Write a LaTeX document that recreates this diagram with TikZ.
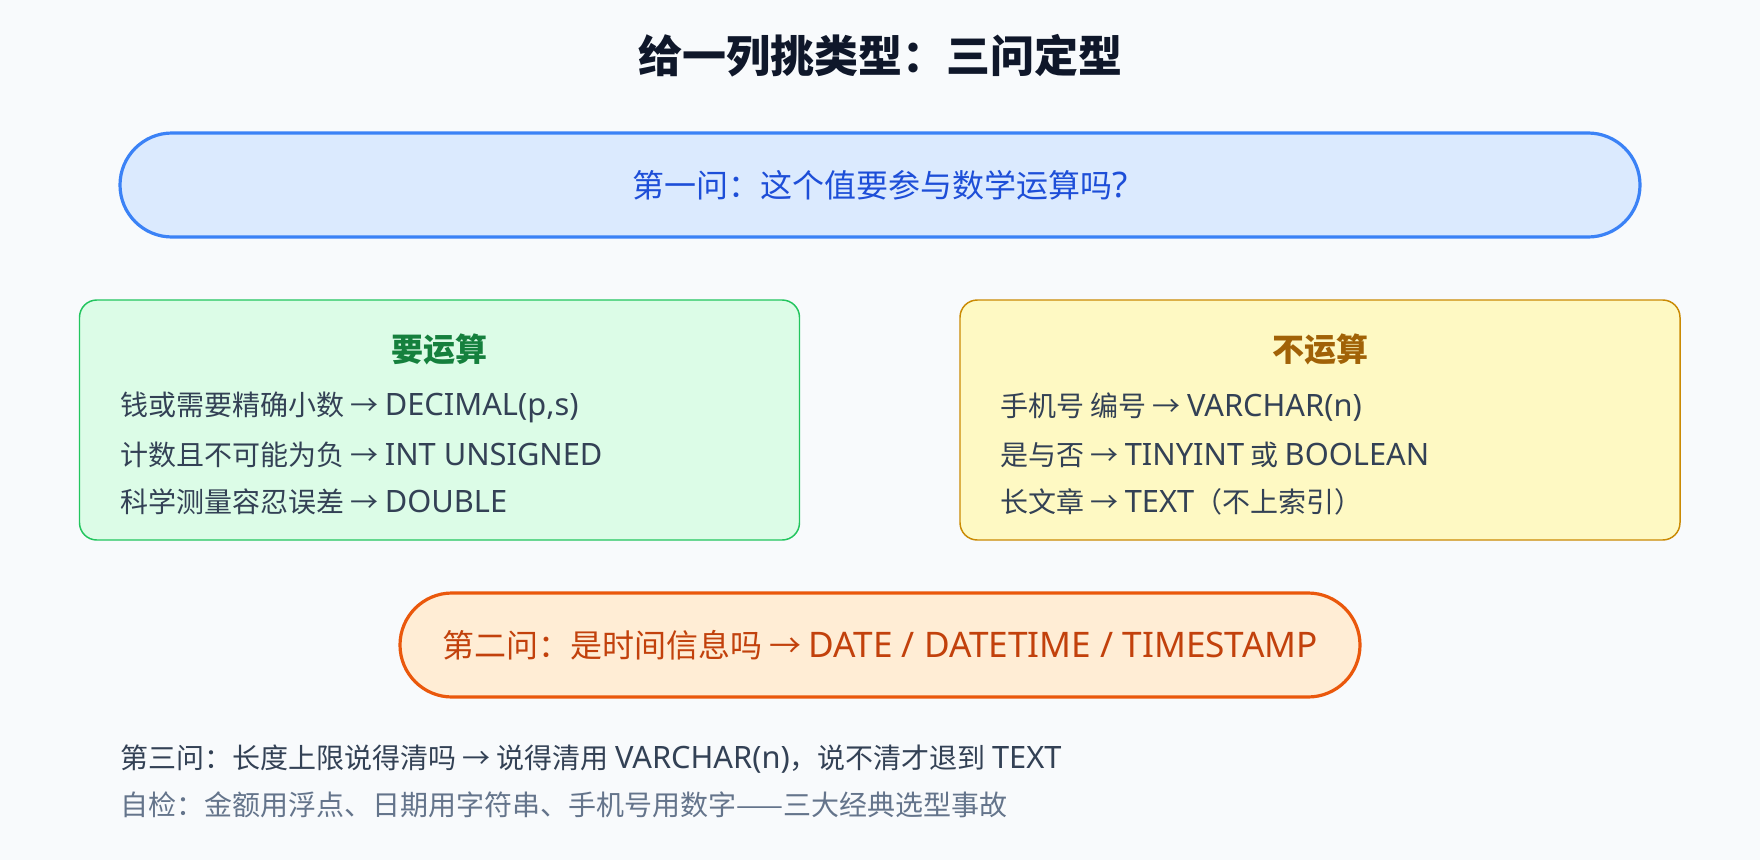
\documentclass[tikz,border=0pt]{standalone}
\usepackage{fontspec}
\setmainfont{Noto Sans CJK SC}
\newfontfamily\latinfont[Scale=1.1]{Noto Sans}
\newcommand{\latinpart}[1]{{\latinfont #1}}
\definecolor{pageBg}{HTML}{F8FAFC}
\definecolor{titleInk}{HTML}{0F172A}
\definecolor{slateInk}{HTML}{334155}
\definecolor{grayInk}{HTML}{64748B}
\definecolor{blueLine}{HTML}{3B82F6}
\definecolor{blueFill}{HTML}{DBEAFE}
\definecolor{blueInk}{HTML}{1D4ED8}
\definecolor{greenLine}{HTML}{22C55E}
\definecolor{greenFill}{HTML}{DCFCE7}
\definecolor{greenInk}{HTML}{15803D}
\definecolor{yellowLine}{HTML}{CA8A04}
\definecolor{yellowFill}{HTML}{FEF9C3}
\definecolor{yellowInk}{HTML}{A16207}
\definecolor{orangeLine}{HTML}{EA580C}
\definecolor{orangeFill}{HTML}{FFEDD5}
\definecolor{orangeInk}{HTML}{C2410C}
\tikzstyle{questionPill}=[shape = rectangle, rounded corners = 39pt, minimum height = 78pt, line width = 2.4pt, inner sep = 0pt, draw, font = \fontsize{24pt}{28pt}\selectfont]
\tikzstyle{answerCard}=[shape = rectangle, rounded corners = 13pt, minimum width = 540pt, minimum height = 180pt, line width = 1.1pt, draw]
\tikzstyle{cardTitle}=[inner sep = 0pt, font = \fontsize{24pt}{28pt}\selectfont\bfseries]
\tikzstyle{cardLine}=[anchor = west, inner sep = 0pt, text = slateInk, font = \fontsize{21pt}{25pt}\selectfont]

\begin{document}
\begin{tikzpicture}[x = 0.75pt, y = -0.75pt]
\fill[pageBg] (0,0) rectangle (1760,860);
\node[inner sep = 0pt, text = titleInk, font = \fontsize{33pt}{38pt}\selectfont\bfseries] (title) at (880,56) {给一列挑类型：三问定型};
% first question
\node[questionPill, minimum width = 1140pt, fill = blueFill, draw = blueLine, text = blueInk] (askMath) at (880,185) {第一问：这个值要参与数学运算吗\latinpart{?}};
% two answers
\node[answerCard, fill = greenFill, draw = greenLine] (mathCard) at (439.5,420) {};
\node[answerCard, fill = yellowFill, draw = yellowLine] (textCard) at (1320,420) {};
\node[cardTitle, text = greenInk] (mathTitle) at (439.5,349) {要运算};
\node[cardTitle, text = yellowInk] (textTitle) at (1320,349) {不运算};
\node[cardLine] (mathA) at (120,407) {钱或需要精确小数 → \latinpart{DECIMAL(p,s)}};
\node[cardLine] (mathB) at (120,455) {计数且不可能为负 → \latinpart{INT UNSIGNED}};
\node[cardLine] (mathC) at (120,502) {科学测量容忍误差 → \latinpart{DOUBLE}};
\node[cardLine] (textA) at (1000,407) {手机号 编号 → \latinpart{VARCHAR(n)}};
\node[cardLine] (textB) at (1000,455) {是与否 → \latinpart{TINYINT} 或 \latinpart{BOOLEAN}};
\node[cardLine] (textC) at (1000,502) {长文章 → \latinpart{TEXT}（不上索引）};
% second question
\node[questionPill, minimum width = 720pt, fill = orangeFill, draw = orangeLine, text = orangeInk] (askTime) at (880,645) {第二问：是时间信息吗 → \latinpart{DATE / DATETIME / TIMESTAMP}};
% third question and check
\node[cardLine] (askLength) at (120,759) {第三问：长度上限说得清吗 → 说得清用 \latinpart{VARCHAR(n)}，说不清才退到 \latinpart{TEXT}};
\node[cardLine, text = grayInk] (selfCheck) at (120,805) {自检：金额用浮点、日期用字符串、手机号用数字——三大经典选型事故};
\end{tikzpicture}
\end{document}
